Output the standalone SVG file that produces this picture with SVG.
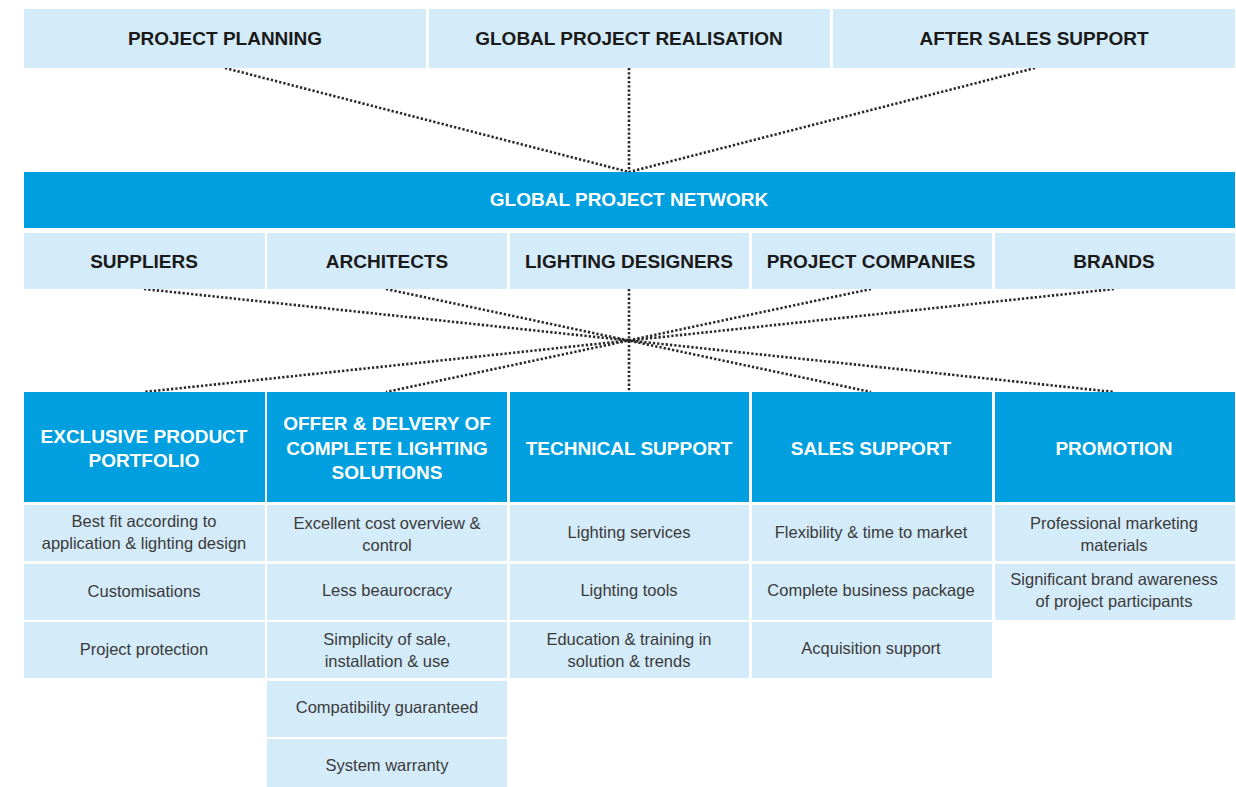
<svg xmlns="http://www.w3.org/2000/svg" width="1236" height="787" viewBox="0 0 1236 787">
<style>
.lb{fill:#d4ebf9}
.db{fill:#009fe0}
.hd{font-family:"Liberation Sans",Arial,sans-serif;font-weight:bold;font-size:19px;fill:#1a1a1a;text-anchor:middle}
.wh{font-family:"Liberation Sans",Arial,sans-serif;font-weight:bold;font-size:19px;fill:#ffffff;text-anchor:middle}
.ct{font-family:"Liberation Sans",Arial,sans-serif;font-size:16.5px;fill:#3a3a3a;text-anchor:middle}
.dot{stroke:#2a2a2a;stroke-width:2.6;stroke-dasharray:2.3 2;fill:none}
</style>
<rect width="1236" height="787" fill="#ffffff"/>
<g id="connectors">
<line class="dot" x1="225" y1="68" x2="629" y2="172"/>
<line class="dot" x1="629" y1="68" x2="629" y2="172"/>
<line class="dot" x1="1035" y1="68" x2="629" y2="172"/>
<line class="dot" x1="144" y1="289" x2="1114" y2="392"/>
<line class="dot" x1="386" y1="289" x2="871" y2="392"/>
<line class="dot" x1="629" y1="289" x2="629" y2="392"/>
<line class="dot" x1="871" y1="289" x2="386" y2="392"/>
<line class="dot" x1="1114" y1="289" x2="144" y2="392"/>
</g>
<g id="top-planning"><rect class="lb" x="24" y="9" width="402" height="59"/><text class="hd" x="225" y="45">PROJECT PLANNING</text></g>
<g id="top-realisation"><rect class="lb" x="429" y="9" width="401" height="59"/><text class="hd" x="629" y="45">GLOBAL PROJECT REALISATION</text></g>
<g id="top-aftersales"><rect class="lb" x="833" y="9" width="402" height="59"/><text class="hd" x="1034" y="45">AFTER SALES SUPPORT</text></g>
<g id="network"><rect class="db" x="24" y="172" width="1211" height="56"/><text class="wh" x="629" y="206">GLOBAL PROJECT NETWORK</text></g>
<g id="suppliers"><rect class="lb" x="24" y="233" width="241" height="56"/><text class="hd" x="144" y="268">SUPPLIERS</text></g>
<g id="architects"><rect class="lb" x="267" y="233" width="240" height="56"/><text class="hd" x="387" y="268">ARCHITECTS</text></g>
<g id="lighting-designers"><rect class="lb" x="510" y="233" width="239" height="56"/><text class="hd" x="629" y="268">LIGHTING DESIGNERS</text></g>
<g id="project-companies"><rect class="lb" x="752" y="233" width="240" height="56"/><text class="hd" x="871" y="268">PROJECT COMPANIES</text></g>
<g id="brands"><rect class="lb" x="995" y="233" width="240" height="56"/><text class="hd" x="1114" y="268">BRANDS</text></g>

<g id="col-portfolio">
<rect class="db" x="24" y="392" width="241" height="110"/>
<text class="wh" x="144" y="443">EXCLUSIVE PRODUCT</text>
<text class="wh" x="144" y="467">PORTFOLIO</text>
<rect class="lb" x="24" y="505" width="241" height="56"/>
<text class="ct" x="144" y="527">Best fit according to</text>
<text class="ct" x="144" y="549">application &amp; lighting design</text>
<rect class="lb" x="24" y="564" width="241" height="56"/>
<text class="ct" x="144" y="597">Customisations</text>
<rect class="lb" x="24" y="622" width="241" height="56"/>
<text class="ct" x="144" y="655">Project protection</text>
</g>
<g id="col-offer">
<rect class="db" x="267" y="392" width="240" height="110"/>
<text class="wh" x="387" y="430">OFFER &amp; DELVERY OF</text>
<text class="wh" x="387" y="455">COMPLETE LIGHTING</text>
<text class="wh" x="387" y="479">SOLUTIONS</text>
<rect class="lb" x="267" y="505" width="240" height="56"/>
<text class="ct" x="387" y="529">Excellent cost overview &amp;</text>
<text class="ct" x="387" y="551">control</text>
<rect class="lb" x="267" y="564" width="240" height="56"/>
<text class="ct" x="387" y="596">Less beaurocracy</text>
<rect class="lb" x="267" y="622" width="240" height="56"/>
<text class="ct" x="387" y="645">Simplicity of sale,</text>
<text class="ct" x="387" y="667">installation &amp; use</text>
<rect class="lb" x="267" y="681" width="240" height="56"/>
<text class="ct" x="387" y="713">Compatibility guaranteed</text>
<rect class="lb" x="267" y="739" width="240" height="48"/>
<text class="ct" x="387" y="771">System warranty</text>
</g>
<g id="col-technical">
<rect class="db" x="510" y="392" width="239" height="110"/>
<text class="wh" x="629" y="455">TECHNICAL SUPPORT</text>
<rect class="lb" x="510" y="505" width="239" height="56"/>
<text class="ct" x="629" y="538">Lighting services</text>
<rect class="lb" x="510" y="564" width="239" height="56"/>
<text class="ct" x="629" y="596">Lighting tools</text>
<rect class="lb" x="510" y="622" width="239" height="56"/>
<text class="ct" x="629" y="645">Education &amp; training in</text>
<text class="ct" x="629" y="667">solution &amp; trends</text>
</g>
<g id="col-sales">
<rect class="db" x="752" y="392" width="240" height="110"/>
<text class="wh" x="871" y="455">SALES SUPPORT</text>
<rect class="lb" x="752" y="505" width="240" height="56"/>
<text class="ct" x="871" y="538">Flexibility &amp; time to market</text>
<rect class="lb" x="752" y="564" width="240" height="56"/>
<text class="ct" x="871" y="596">Complete business package</text>
<rect class="lb" x="752" y="622" width="240" height="56"/>
<text class="ct" x="871" y="654">Acquisition support</text>
</g>
<g id="col-promotion">
<rect class="db" x="995" y="392" width="240" height="110"/>
<text class="wh" x="1114" y="455">PROMOTION</text>
<rect class="lb" x="995" y="505" width="240" height="56"/>
<text class="ct" x="1114" y="529">Professional marketing</text>
<text class="ct" x="1114" y="551">materials</text>
<rect class="lb" x="995" y="564" width="240" height="56"/>
<text class="ct" x="1114" y="585">Significant brand awareness</text>
<text class="ct" x="1114" y="607">of project participants</text>
</g>
</svg>
